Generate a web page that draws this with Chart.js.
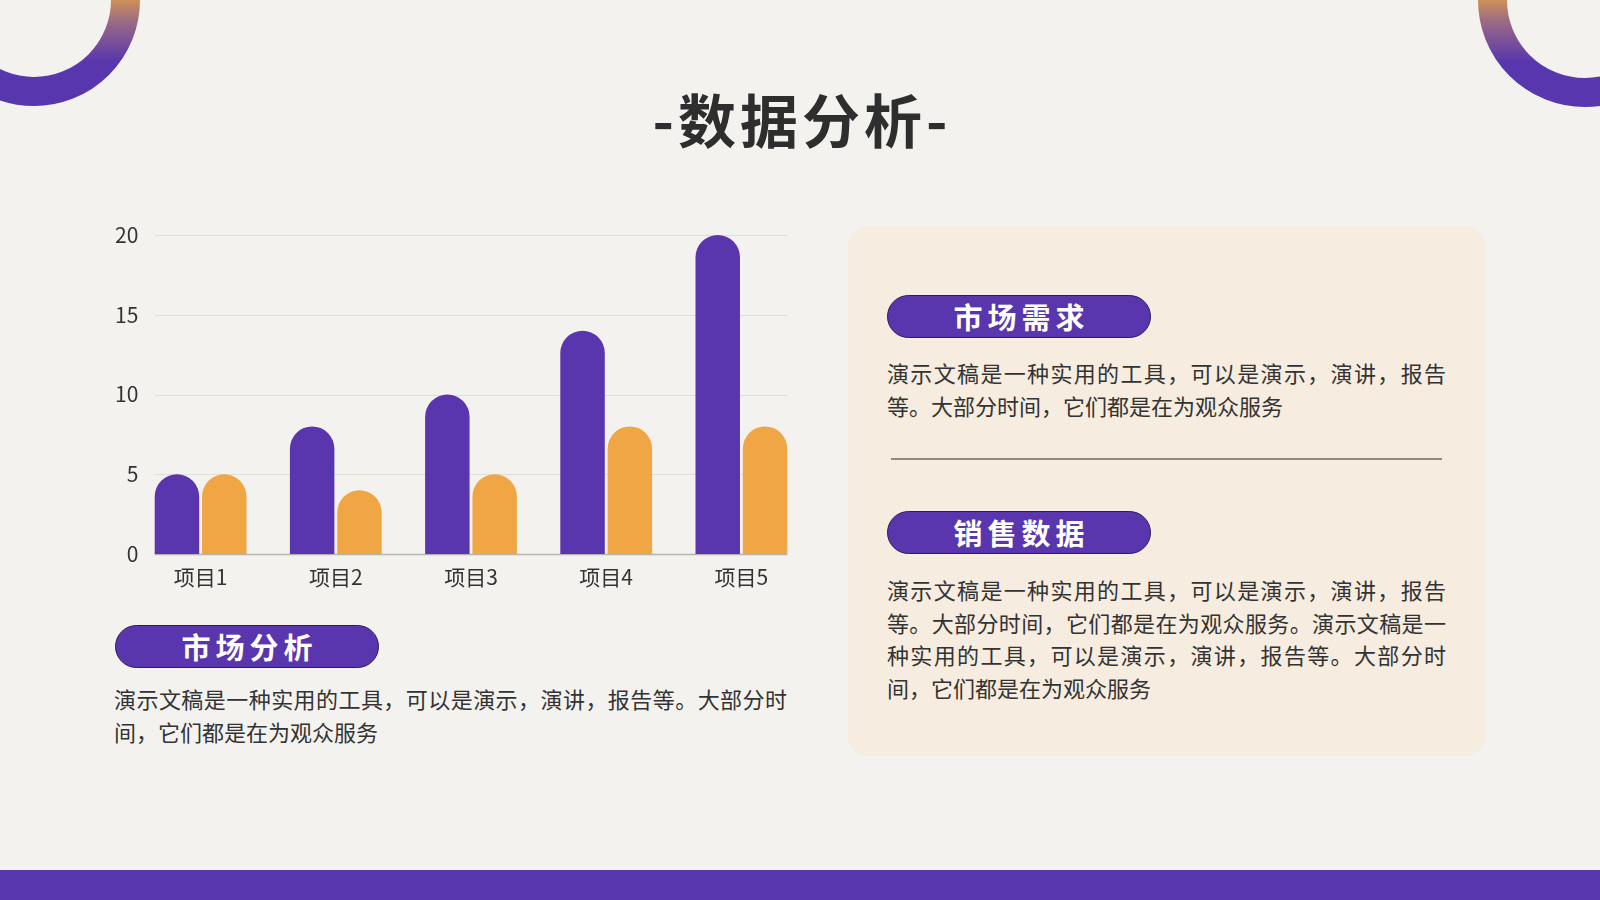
<!DOCTYPE html>
<html lang="zh-CN">
<head>
<meta charset="UTF-8">
<title>数据分析</title>
<script src="https://cdn.jsdelivr.net/npm/chart.js"></script>
<style>
    html, body {
        margin: 0;
        padding: 0;
    }
    body {
        width: 1600px;
        height: 900px;
        position: relative;
        overflow: hidden;
        background: #f3f2ef;
        font-family: "Noto Sans CJK SC", "Noto Sans", sans-serif;
        color: #333;
    }
    .rings {
        position: absolute;
        left: 0;
        top: 0;
    }
    .title {
        position: absolute;
        left: 0;
        top: 86px;
        width: 1600px;
        text-align: center;
        font-size: 58px;
        font-weight: bold;
        line-height: 64px;
        letter-spacing: 4px;
        padding-left: 4px;
        box-sizing: border-box;
        color: #2e2e2e;
    }
    #chartBox {
        position: absolute;
        left: 100px;
        top: 210px;
        width: 709px;
        height: 380px;
    }
    .panel {
        position: absolute;
        left: 848px;
        top: 226px;
        width: 637px;
        height: 530px;
        border-radius: 20px;
        background: #f6ecdf;
    }
    .pill {
        position: absolute;
        width: 264px;
        height: 43px;
        box-sizing: border-box;
        border: 1.5px solid #2b1d5c;
        border-radius: 22px;
        background: #5936ae;
        color: #fff;
        font-size: 29px;
        font-weight: bold;
        line-height: 40px;
        text-align: center;
        letter-spacing: 5px;
        padding-left: 5px;
    }
    .para {
        position: absolute;
        font-size: 22px;
        line-height: 32.7px;
        color: #333;
    }
    .para div {
        white-space: nowrap;
        text-align: justify;
        text-align-last: justify;
    }
    .para div.end {
        text-align-last: left;
    }
    .divider {
        position: absolute;
        left: 891px;
        top: 458px;
        width: 551px;
        height: 1.5px;
        background: #8e8b85;
    }
    .footer {
        position: absolute;
        left: 0;
        top: 870px;
        width: 1600px;
        height: 30px;
        background: #5836ad;
    }
</style>
</head>
<body>

<svg class="rings" width="1600" height="900">
    <defs>
        <linearGradient id="ringGrad" gradientUnits="userSpaceOnUse" x1="0" y1="0" x2="0" y2="62">
            <stop offset="0" stop-color="#cf9058"/>
            <stop offset="0.35" stop-color="#9b6a86"/>
            <stop offset="1" stop-color="#5836ad"/>
        </linearGradient>
    </defs>
    <circle cx="34" cy="0" r="91.5" fill="none" stroke="url(#ringGrad)" stroke-width="29"/>
    <circle cx="1585" cy="0" r="92.5" fill="none" stroke="url(#ringGrad)" stroke-width="29"/>
</svg>

<div class="title">-数据分析-</div>

<div id="chartBox">
    <canvas id="barChart"></canvas>
</div>

<div class="pill" style="left:115px; top:625px;">市场分析</div>
<div class="para" style="left:114px; top:682px; width:673px;">
    <div>演示文稿是一种实用的工具，可以是演示，演讲，报告等。大部分时</div>
    <div class="end">间，它们都是在为观众服务</div>
</div>

<div class="panel"></div>
<div class="pill" style="left:887px; top:295px;">市场需求</div>
<div class="para" style="left:887px; top:356px; width:559px;">
    <div>演示文稿是一种实用的工具，可以是演示，演讲，报告</div>
    <div class="end">等。大部分时间，它们都是在为观众服务</div>
</div>
<div class="divider"></div>
<div class="pill" style="left:887px; top:511px;">销售数据</div>
<div class="para" style="left:887px; top:573px; width:559px;">
    <div>演示文稿是一种实用的工具，可以是演示，演讲，报告</div>
    <div>等。大部分时间，它们都是在为观众服务。演示文稿是一</div>
    <div>种实用的工具，可以是演示，演讲，报告等。大部分时</div>
    <div class="end">间，它们都是在为观众服务</div>
</div>

<div class="footer"></div>

<script>
    const categories = ['项目1', '项目2', '项目3', '项目4', '项目5'];
    const series1 = [5, 8, 10, 14, 20];
    const series2 = [5, 4, 5, 8, 8];
    const yTicks = [0, 5, 10, 15, 20];

    const purple = '#5936ae';
    const orange = '#f0a645';

    // gridlines only span the bars, like the original slide
    const shortGrid = {
        id: 'shortGrid',
        beforeDatasetsDraw(chart) {
            const ctx = chart.ctx;
            const y = chart.scales.y;
            const first = chart.getDatasetMeta(0).data[0];
            const lastMeta = chart.getDatasetMeta(chart.data.datasets.length - 1);
            const last = lastMeta.data[lastMeta.data.length - 1];
            const x0 = first.x - first.width / 2;
            const x1 = last.x + last.width / 2;
            ctx.save();
            y.ticks.forEach(t => {
                const py = Math.round(y.getPixelForValue(t.value)) + 0.5;
                ctx.strokeStyle = t.value === 0 ? '#b6b2ad' : '#e0dcd7';
                ctx.lineWidth = t.value === 0 ? 1.5 : 1;
                ctx.beginPath();
                ctx.moveTo(x0, py);
                ctx.lineTo(x1, py);
                ctx.stroke();
            });
            ctx.restore();
        }
    };

    const barStyle = {
        borderRadius: { topLeft: 40, topRight: 40, bottomLeft: 0, bottomRight: 0 },
        borderSkipped: false,
        categoryPercentage: 0.7,
        barPercentage: 0.94
    };

    new Chart(document.getElementById('barChart'), {
        type: 'bar',
        data: {
            labels: categories,
            datasets: [
                Object.assign({ label: '系列1', data: series1, backgroundColor: purple }, barStyle),
                Object.assign({ label: '系列2', data: series2, backgroundColor: orange }, barStyle)
            ]
        },
        options: {
            responsive: true,
            maintainAspectRatio: false,
            animation: false,
            layout: { padding: { top: 25, left: 0, right: 0, bottom: 0 } },
            plugins: {
                legend: { display: false },
                tooltip: { enabled: false }
            },
            scales: {
                x: {
                    grid: { display: false, drawTicks: false },
                    border: { display: false },
                    ticks: {
                        color: '#333',
                        padding: 10,
                        font: { family: 'Noto Sans CJK SC', size: 21 }
                    },
                    afterFit(scale) { scale.height = 36; }
                },
                y: {
                    min: 0,
                    max: 20,
                    afterBuildTicks(scale) {
                        scale.ticks = yTicks.map(v => ({ value: v }));
                    },
                    grid: { display: false, drawTicks: false },
                    border: { display: false },
                    ticks: {
                        color: '#333',
                        mirror: true,
                        crossAlign: 'far',
                        padding: -18,
                        font: { family: 'Noto Sans CJK SC', size: 21 }
                    },
                    afterFit(scale) { scale.width = 33; }
                }
            }
        },
        plugins: [shortGrid]
    });
</script>
</body>
</html>
